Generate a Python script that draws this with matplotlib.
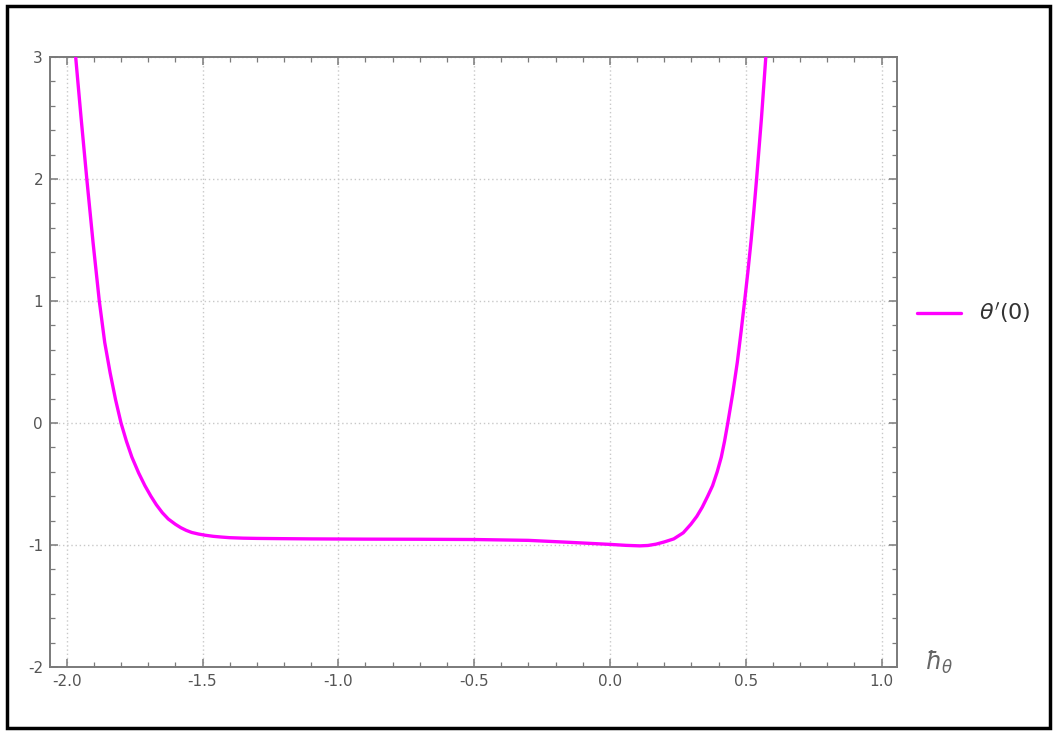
import matplotlib
matplotlib.use("Agg")
import matplotlib.pyplot as plt
from matplotlib.ticker import MultipleLocator, FuncFormatter
from matplotlib.patches import Rectangle

# Data
h_theta = [-1.967, -1.947, -1.926, -1.903, -1.88, -1.86, -1.84, -1.82, -1.80,
           -1.78, -1.76, -1.735, -1.712, -1.69, -1.67, -1.648, -1.626, -1.60,
           -1.58, -1.56, -1.54, -1.515, -1.49, -1.46, -1.43, -1.40, -1.35,
           -1.30, -1.21, -1.10, -0.90, -0.70, -0.50, -0.30, -0.15, 0.0, 0.06,
           0.11, 0.14, 0.17, 0.20, 0.235, 0.27, 0.298, 0.32, 0.34, 0.36,
           0.378, 0.395, 0.41, 0.422, 0.434, 0.452, 0.469, 0.483, 0.496,
           0.508, 0.52, 0.53, 0.54, 0.549, 0.558, 0.566, 0.574]
theta_p0 = [3.0, 2.5, 2.0, 1.48, 1.0, 0.66, 0.41, 0.19, 0.0,
            -0.15, -0.28, -0.41, -0.514, -0.60, -0.67, -0.735, -0.787, -0.83,
            -0.858, -0.88, -0.897, -0.91, -0.92, -0.929, -0.935, -0.94, -0.944,
            -0.946, -0.948, -0.95, -0.952, -0.953, -0.955, -0.962, -0.978, -0.995, -1.003,
            -1.007, -1.004, -0.993, -0.975, -0.95, -0.90, -0.83, -0.765, -0.69, -0.60,
            -0.514, -0.40, -0.28, -0.15, 0.0, 0.24, 0.497, 0.75, 1.0,
            1.24, 1.5, 1.74, 2.0, 2.25, 2.5, 2.75, 3.0]
series_label = r"$\theta'(0)$"
x_label = r"$\hbar_\theta$"

W, H = 1053, 731
fig = plt.figure(figsize=(W / 100, H / 100), dpi=100)

# outer frame
fig.patches.append(Rectangle((7 / W, 3 / H), (1050 - 7) / W, (725 - 3) / H,
                             transform=fig.transFigure, fill=False,
                             edgecolor="black", linewidth=2.5, zorder=10))

ax = fig.add_axes([50 / W, (H - 667) / H, (897 - 50) / W, (667 - 57) / H])
ax.plot(h_theta, theta_p0, color="#ff00ff", linewidth=2.4, label=series_label,
        solid_capstyle="round", solid_joinstyle="round", zorder=3)

ax.set_xlim(-2.0615, 1.057)
ax.set_ylim(-2, 3)

ax.xaxis.set_major_locator(MultipleLocator(0.5))
ax.xaxis.set_minor_locator(MultipleLocator(0.1))
ax.yaxis.set_major_locator(MultipleLocator(1))
ax.yaxis.set_minor_locator(MultipleLocator(0.2))
ax.xaxis.set_major_formatter(FuncFormatter(lambda v, p: f"{v:.1f}".replace("-0.0", "0.0")))
ax.yaxis.set_major_formatter(FuncFormatter(lambda v, p: f"{int(round(v))}"))

spine_c = "#7a7a7a"
for s in ax.spines.values():
    s.set_color(spine_c)
    s.set_linewidth(1.4)

ax.tick_params(which="both", direction="in", top=True, right=True,
               color=spine_c, labelcolor="#555555", labelsize=11)
ax.tick_params(which="major", length=6, width=1.1, pad=5)
ax.tick_params(which="minor", length=3.5, width=0.9)

ax.grid(True, which="major", color="#c8c8c8", linestyle=(0, (1, 2)), linewidth=1.0, zorder=0)

# legend
leg = ax.legend(loc="center left", bbox_to_anchor=(1.0, 0.58), frameon=False,
                fontsize=16, handlelength=2.0, handletextpad=0.8)
for t in leg.get_texts():
    t.set_color("#333333")

# axis label on the right of the x axis
fig.text(925 / W, (H - 662) / H, x_label, fontsize=17, color="#666666",
         ha="left", va="center")

fig.savefig("out.png", dpi=100)
